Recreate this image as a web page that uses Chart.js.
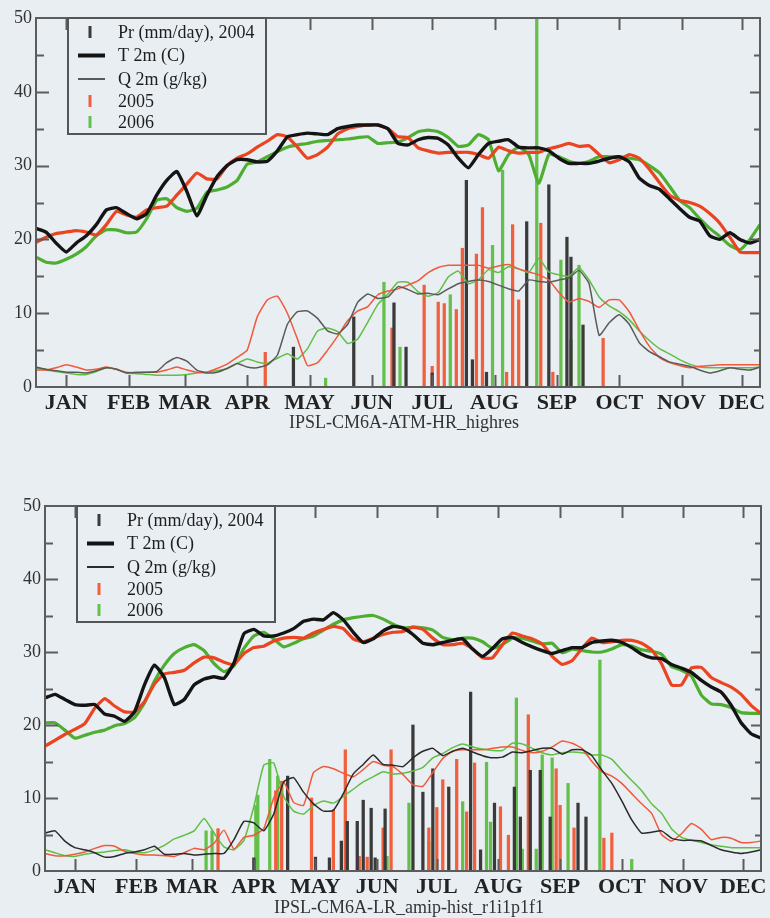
<!DOCTYPE html>
<html><head><meta charset="utf-8">
<script src="https://cdn.jsdelivr.net/npm/chart.js@4.4.1/dist/chart.umd.min.js"></script>
<style>
html,body{margin:0;padding:0;background:#e9eef2;}
body{width:770px;height:918px;position:relative;overflow:hidden;}
.wrap{position:absolute;left:0;width:770px;}
.sub{position:absolute;font-family:"Liberation Serif","Times New Roman",serif;font-size:18px;color:#333;white-space:nowrap;transform:translateX(-50%);line-height:20px;}
</style></head><body>
<div class="wrap" style="top:0;height:440px"><canvas id="c1" width="770" height="440" style="width:770px;height:440px"></canvas></div>
<div class="wrap" style="top:460px;height:458px"><canvas id="c2" width="770" height="458" style="width:770px;height:458px"></canvas></div>
<div class="sub" style="left:404px;top:412px">IPSL-CM6A-ATM-HR_highres</div>
<div class="sub" style="left:409px;top:897px">IPSL-CM6A-LR_amip-hist_r1i1p1f1</div>
<script>
// ---------- categories / ticks ----------
const days = [0,5,10,15,20,25,30,35,40,45,50,55,60,65,70,75,80,85,90,95,100,105,110,115,120,125,130,135,140,145,150,155,160,165,170,175,180,185,190,195,200,205,210,215,220,225,230,235,240,245,250,255,260,265,270,275,280,285,290,295,300,305,310,315,320,325,330,335,340,345,350,355,360];
const monthTicks = [15,46,74,105,136,167,197,228,259,290,321,351];
const monthLabels = ['JAN','FEB','MAR','APR','MAY','JUN','JUL','AUG','SEP','OCT','NOV','DEC'];
const yTicks = [0,10,20,30,40,50];
const legendLabels = ['Pr (mm/day), 2004','T 2m (C)','Q 2m (g/kg)','2005','2006'];
const subtitleTop = 'IPSL-CM6A-ATM-HR_highres';
const subtitleBottom = 'IPSL-CM6A-LR_amip-hist_r1i1p1f1';

// ---------- top panel: IPSL-CM6A-ATM-HR_highres ----------
const topT2004 = [21.5,21,19.5,18.3,19.5,20.5,22,24,24.3,23.5,22.8,23.5,26,28,29.2,26.5,23.2,26,28.5,30,30.8,30.8,30.5,30.6,32,33.9,34.2,34.4,34.3,34.2,35,35.3,35.5,35.5,35.5,35,33,32.8,33.5,33.8,33.7,32.8,31,29.7,31.5,33,33.3,33.5,32.5,32.4,32.4,32,31,30.3,30.3,30.3,30.6,31,31.2,30.5,28.3,27.3,26.8,25.5,24.2,23,22.5,20.5,20,20.9,20,19.5,20];
const topT2005 = [19.6,20.3,20.8,21,21.2,21,20.6,22,23.8,23.3,23,24,24.3,24.5,26,27.5,29,28.2,28.2,30,31,31.6,32.5,33.3,34.2,33.9,32.5,31,31.5,32.5,34.3,35,35.3,35.5,35.5,35,33.9,33.8,32.4,32,31.7,31.8,31.8,31.8,31.5,31,32.5,32,31.7,31.8,31.8,32.3,32.6,33,32.6,32.7,31.5,30.4,30.8,31.5,31,29.5,27.7,26,25.3,25,24.5,23.5,22.2,20.3,18.3,18.2,18.2];
const topT2006 = [17.6,16.9,16.8,17.3,18,19,20.5,21.3,21.3,20.9,21,22.8,25.3,25.5,24.3,23.8,24.2,26.4,26.7,27.1,28,30.2,30.5,31.2,31.9,32.5,32.8,33,33.3,33.4,33.5,33.6,33.8,33.9,33,33.1,33.2,33.8,34.6,34.8,34.6,33.8,32.6,32.8,34.2,33.5,29.3,31.5,32.5,31.5,27.6,31.5,31.2,30.6,30.3,30.6,31.2,31.2,31.2,31,30.8,30,29,27.2,25.3,24.3,22.8,21.5,20.4,19.2,18.6,20,22];
const topQ2004 = [2.7,2.4,2.2,2.0,2.0,1.9,2.2,2.6,2.4,1.9,2.0,2.0,2.1,3.3,4.0,3.5,2.3,1.9,2.0,2.5,3.2,2.7,2.6,3.0,4.3,8.5,10.2,10.3,9.3,7.6,7.2,8.5,11.5,12.6,12,12.2,13.6,13.2,12.6,12.7,12.5,13.3,14,14.3,14.5,14.3,13.8,13.3,13,14.5,14.3,14.2,14.5,14.8,15.8,14,7,8.7,9.8,8.5,6,4.8,4.1,3.4,3.1,2.8,2.3,1.9,2.2,2.6,2.4,2.3,2.7];
const topQ2005 = [2.3,2.3,2.6,3.0,2.7,2.3,2.4,2.7,2.4,2.0,1.9,2.0,2.0,2.3,2.7,2.3,2.0,2.0,2.5,3.1,4.0,5.0,9.5,11.8,12.3,10.0,6.5,2.9,3.3,5.0,6.9,9.0,10.3,10.9,12.5,13.0,13.3,13.8,14.4,15.5,16.2,16.5,16.5,16.5,16.5,16.1,16.4,16.6,16.0,15.6,15.2,14.5,12.8,11.5,12.0,11.6,10.8,11.8,11.8,10.2,7.7,5.5,4.0,3.3,2.9,2.6,2.8,2.9,3.0,3.0,3.0,3.0,3.0];
const topQ2006 = [2.6,2.3,2.1,1.9,1.7,1.7,2.1,2.6,2.4,1.9,1.8,1.7,1.6,1.6,1.6,1.7,1.9,2.0,2.2,2.5,3.2,3.8,3.4,3.2,3.9,4.5,3.8,5.2,7.6,8.0,7.5,5.9,6.5,8.8,11.2,12.6,14.2,14.2,12.9,12.3,12.8,14.9,15.7,14,14.5,15.9,15.5,16.3,16.0,15.5,17.4,15.6,15.2,15.0,16.2,14.5,12.2,11.0,10.2,9.1,7.6,6.3,5.2,4.5,3.7,3.1,2.7,2.6,2.6,2.6,2.6,2.6,2.7];
const topPrDays2004 = [128,158,178,184,197,214,217,224,244,255,264,266,272];
const topPr2004     = [5.4,9.5,11.4,5.4,1.9,28,3.7,2.0,22.4,27.4,20.3,17.6,8.4];
const topPrDays2005 = [114,177,193,197,200,203,209,212,219,222,234,237,240,251,257,282];
const topPr2005     = [4.7,8,13.8,2.8,11.5,11.3,10.5,18.8,18,24.3,2,22,11.8,22.2,2,6.6];
const topPrDays2006 = [144,173,181,206,227,232,249,261,266,270];
const topPr2006     = [1.2,14.2,5.4,12.5,19.2,29.4,52,17.2,6.4,16.5];

// ---------- bottom panel: IPSL-CM6A-LR_amip-hist_r1i1p1f1 ----------
const botT2004 = [23.7,24.2,23.5,22.8,22.7,22.8,21.5,21.2,20.5,21.8,25.5,28.2,26.5,22.8,23.5,25.5,26.3,26.6,26.4,28.5,32.5,33.1,32.2,32.2,32.6,33.2,34.2,34.5,34.4,35.4,34.4,32.7,31.3,31.8,32.9,33.5,33.3,32.4,31.2,31,31.3,31.6,31.8,30.4,29.4,30.5,31.8,32.0,31.3,30.7,30.2,29.8,30.2,30.6,30.6,31.3,31.5,31.6,31.3,30.6,29.7,29.2,29.1,28.3,27.8,27.2,26.1,25.2,24.5,22.7,20.3,18.8,18.2];
const botT2005 = [17.1,17.9,18.7,19.4,20.2,22.3,23.6,22.6,21.8,21.8,23.2,25.6,27,27.2,27.5,28.5,29.3,29.2,28.6,28.3,29.8,30.6,30.8,31.5,31.9,32,31.9,32.6,33.1,33.5,33.2,31.8,31.4,31.9,32.4,32.7,32.8,33.4,33.1,31.9,31,31,31.2,30.4,29.2,29.2,31,32.6,32.2,31.8,31.1,29.4,28.3,28.8,30.5,31.9,31.3,31.4,31.6,31.6,31.2,30.3,28.4,25.5,25.5,27.8,27.9,26.5,25.8,25.2,24.2,22.7,21.6];
const botT2006 = [20.3,20.3,19.3,18.2,18.6,19,19.3,19.9,20.2,21,23,26,28.2,29.8,30.6,31,30.2,28.4,27.3,28.1,30.5,32.2,32.7,31.8,30.7,31.2,31.8,32.2,33,33.8,34.4,34.7,34.9,35,34.5,33.8,33.3,33.4,33.3,33,32,31.7,31.9,31.9,31.4,30.5,31,31.9,31.9,31.5,31.1,31.2,29.9,30.4,30.2,30,30,30.4,31,30.8,30.3,30.1,29.7,28,27.5,26.7,24.1,22.9,22.8,22.4,21.7,21.6,21.6];
const botQ2004 = [5.2,5.5,4.1,3.2,2.9,2.5,1.9,2.0,2.4,2.6,2.9,3.4,2.3,2.3,2.4,2.2,2.3,2.4,2.4,4.3,6.8,6.6,5.5,7.8,12.2,12.8,10.8,9.2,8.2,8.3,10.6,13.3,14.6,15.9,14.6,14.5,14.3,15.5,16.4,16.8,15.8,16.4,16.8,16.3,15.8,15.5,15.6,16.3,16.2,16.5,16.8,16.8,16,16.6,16.6,15.8,13.8,12,9.6,7,5.2,5.3,5.5,4.5,4.2,4.2,4.1,3.5,2.9,2.6,2.4,2.6,2.9];
const botQ2005 = [2.4,2.1,2.1,2.3,2.6,3.1,3.5,3.4,2.7,2.4,2.2,2.2,2.1,2.0,2.5,3.1,2.9,3.8,5.6,3.0,4.6,4.9,5.8,10,12.2,9.4,9.0,13.5,14.3,14.0,13.4,12.9,13.9,15.0,14.5,14.3,13.2,11.8,11.6,13.5,15.4,16.4,16.6,16.6,16.6,16.8,17,17,16.5,16.2,16.4,17,17.8,17.5,16.8,15,13.6,13,12,10.6,9.2,7.9,5,4.1,5.1,6.5,5.7,4.3,4.6,4.5,3.9,3.9,4.1];
const botQ2006 = [2.9,2.5,2.1,2.0,2.3,2.5,2.6,2.8,2.9,2.6,2.5,2.9,3.5,4.4,4.9,5.5,7.2,5.2,3.3,2.9,4.2,8.8,14.5,14.8,10.2,8.2,7.8,9.0,9.6,9.3,10.2,11.2,12.2,12.9,13.6,13.3,13.4,13.7,14.2,15.5,16.1,16.9,17.4,17,16.7,16.5,16.5,17.5,17.4,16.8,16.2,15.9,16.2,16.3,16.2,15.9,15.9,15.3,13.8,12.4,11,9.2,7.9,5.8,4.6,4.2,3.9,3.6,3.4,3.2,3.2,3.2,3.2];
const botPrDays2004 = [105,122,136,143,149,152,157,160,164,166,171,185,190,195,203,214,219,226,236,239,244,249,254,268,272];
const botPr2004     = [1.8,13,1.9,1.8,4.1,6.8,6.8,9.7,8.6,1.8,8.5,20,10.8,14,11.5,24.5,2.9,9.3,11.5,7.4,13.8,13.8,7.4,9.3,7.4];
const botPrDays2005 = [87,116,119,134,145,151,158,162,170,174,193,197,200,207,212,216,229,233,243,257,259,266,281,285];
const botPr2005     = [5.8,11,12.3,10,8.4,16.6,2,1.9,5.9,16.6,5.9,8.7,12.5,15.3,8.1,14.8,8.8,4.9,21.4,14,9,5.9,4.5,5.2];
const botPrDays2006 = [81,84,106,107,113,117,172,183,193,210,222,224,237,240,247,250,255,263,279,295];
const botPr2006     = [5.5,5.5,9,10.4,15.3,13,2,9.3,4,9.5,14.9,6.7,23.7,3,3,15.9,15.5,12,28.9,1.6];

// ---------- styling ----------
const BG = '#e9eef2';
const SERIF = '"Liberation Serif","Times New Roman",serif';
const C_BLACK = '#141414', C_RED = '#ea4420', C_GREEN = '#4dae31';
const B_BLACK = '#3a3a3a', B_RED = '#f0603e', B_GREEN = '#63c04b';

function pts(xs, ys){ return xs.map((x,i)=>({x:x, y:ys[i]})); }

function buildDatasets(d, qBlack){
  const line = (label, ys, color, w, order) => ({type:'line', label, data:pts(days, ys), borderColor:color, borderWidth:w, pointRadius:0, tension:0.15, fill:false, order});
  const bar = (label, xs, ys, color) => ({type:'bar', label, data:pts(xs, ys), backgroundColor:color, borderWidth:0, barThickness:2.6, grouped:false, order:3});
  return [
    line('T 2m (C) 2004', d.T4, C_BLACK, 3.4, 1),
    line('T 2m (C) 2005', d.T5, C_RED, 3.2, 1),
    line('T 2m (C) 2006', d.T6, C_GREEN, 3.2, 1),
    line('Q 2m (g/kg) 2004', d.Q4, qBlack, 1.5, 2),
    line('Q 2m (g/kg) 2005', d.Q5, '#f0593a', 1.5, 2),
    line('Q 2m (g/kg) 2006', d.Q6, '#5fbf45', 1.5, 2),
    bar('Pr (mm/day), 2004', d.PD4, d.P4, B_BLACK),
    bar('Pr (mm/day), 2005', d.PD5, d.P5, B_RED),
    bar('Pr (mm/day), 2006', d.PD6, d.P6, B_GREEN)
  ];
}

const framePlugin = {
  id: 'frame',
  afterDatasetsDraw(chart, args, opts){
    const ctx = chart.ctx, a = chart.chartArea, xs = chart.scales.x, ys = chart.scales.y;
    ctx.save();
    ctx.strokeStyle = '#5c5c5c';
    ctx.lineWidth = 2;
    ctx.strokeRect(a.left, a.top, a.right - a.left, a.bottom - a.top);
    ctx.beginPath();
    monthTicks.forEach(v => {
      const px = Math.round(xs.getPixelForValue(v)) + 0.5;
      ctx.moveTo(px, a.bottom); ctx.lineTo(px, a.bottom - 12);
      ctx.moveTo(px, a.top); ctx.lineTo(px, a.top + 12);
    });
    [10,20,30,40].forEach(v => {
      const py = Math.round(ys.getPixelForValue(v)) + 0.5;
      ctx.moveTo(a.left, py); ctx.lineTo(a.left + 13, py);
      ctx.moveTo(a.right, py); ctx.lineTo(a.right - 10, py);
    });
    [5,15,25,35,45].forEach(v => {
      const py = Math.round(ys.getPixelForValue(v)) + 0.5;
      ctx.moveTo(a.left, py); ctx.lineTo(a.left + 8, py);
      ctx.moveTo(a.right, py); ctx.lineTo(a.right - 6, py);
    });
    ctx.stroke();

    // legend box
    const lx = a.left + 32, ly = a.top, lw = 198, lh = 116;
    ctx.fillStyle = BG;
    ctx.fillRect(lx, ly, lw, lh);
    ctx.strokeStyle = '#555';
    ctx.lineWidth = 2;
    ctx.strokeRect(lx, ly, lw, lh);
    const rows = [14, 37.5, 61, 83, 104];
    const mx = a.left + 54, l0 = a.left + 42, l1 = a.left + 69, tx = a.left + 82;
    const markers = [
      {kind:'bar', color:B_BLACK},
      {kind:'line', color:C_BLACK, w:4},
      {kind:'line', color:opts.qColor, w:2},
      {kind:'bar', color:B_RED},
      {kind:'bar', color:B_GREEN}
    ];
    ctx.font = '18px ' + SERIF;
    ctx.textBaseline = 'middle';
    ctx.textAlign = 'left';
    legendLabels.forEach((lab, i) => {
      const yy = a.top + rows[i];
      const m = markers[i];
      if (m.kind === 'bar') {
        ctx.fillStyle = m.color;
        ctx.fillRect(mx - 1.5, yy - 6, 3, 12);
      } else {
        ctx.strokeStyle = m.color; ctx.lineWidth = m.w;
        ctx.beginPath(); ctx.moveTo(l0, yy); ctx.lineTo(l1, yy); ctx.stroke();
      }
      ctx.fillStyle = '#1e1e1e';
      ctx.fillText(lab, tx, yy + 1);
    });
    ctx.restore();
  }
};

function makeChart(id, d, qBlack, pad, yWidth, xHeight){
  return new Chart(document.getElementById(id), {
    type: 'line',
    data: { datasets: buildDatasets(d, qBlack) },
    options: {
      responsive: false,
      animation: false,
      devicePixelRatio: 1,
      layout: { padding: pad },
      plugins: { legend: {display:false}, tooltip: {enabled:false}, title: {display:false}, frame: { qColor: qBlack } },
      scales: {
        x: {
          type: 'linear', min: 0, max: 360, offset: false,
          grid: { display: false, drawTicks: false },
          border: { display: false },
          afterBuildTicks: s => { s.ticks = monthTicks.map(v => ({value: v})); },
          afterFit: s => { s.height = xHeight; s.paddingLeft = 0; s.paddingRight = 0; },
          ticks: {
            autoSkip: false, maxRotation: 0, minRotation: 0, padding: 3,
            color: '#222', font: { family: SERIF, size: 22, weight: 'bold' },
            callback: (v, i) => monthLabels[i]
          }
        },
        y: {
          type: 'linear', min: 0, max: 50,
          grid: { display: false, drawTicks: false },
          border: { display: false },
          afterBuildTicks: s => { s.ticks = yTicks.map(v => ({value: v})); },
          afterFit: s => { s.width = yWidth; s.paddingTop = 0; s.paddingBottom = 0; },
          ticks: { padding: 4, color: '#333', font: { family: SERIF, size: 18 } }
        }
      }
    },
    plugins: [framePlugin]
  });
}

makeChart('c1', {T4:topT2004,T5:topT2005,T6:topT2006,Q4:topQ2004,Q5:topQ2005,Q6:topQ2006,
  PD4:topPrDays2004,P4:topPr2004,PD5:topPrDays2005,P5:topPr2005,PD6:topPrDays2006,P6:topPr2006},
  '#5a5a5a', {top:18, right:10, bottom:0, left:0}, 36, 53);
makeChart('c2', {T4:botT2004,T5:botT2005,T6:botT2006,Q4:botQ2004,Q5:botQ2005,Q6:botQ2006,
  PD4:botPrDays2004,P4:botPr2004,PD5:botPrDays2005,P5:botPr2005,PD6:botPrDays2006,P6:botPr2006},
  '#2a2a2a', {top:46, right:9, bottom:0, left:0}, 45, 47);
</script>
</body></html>
